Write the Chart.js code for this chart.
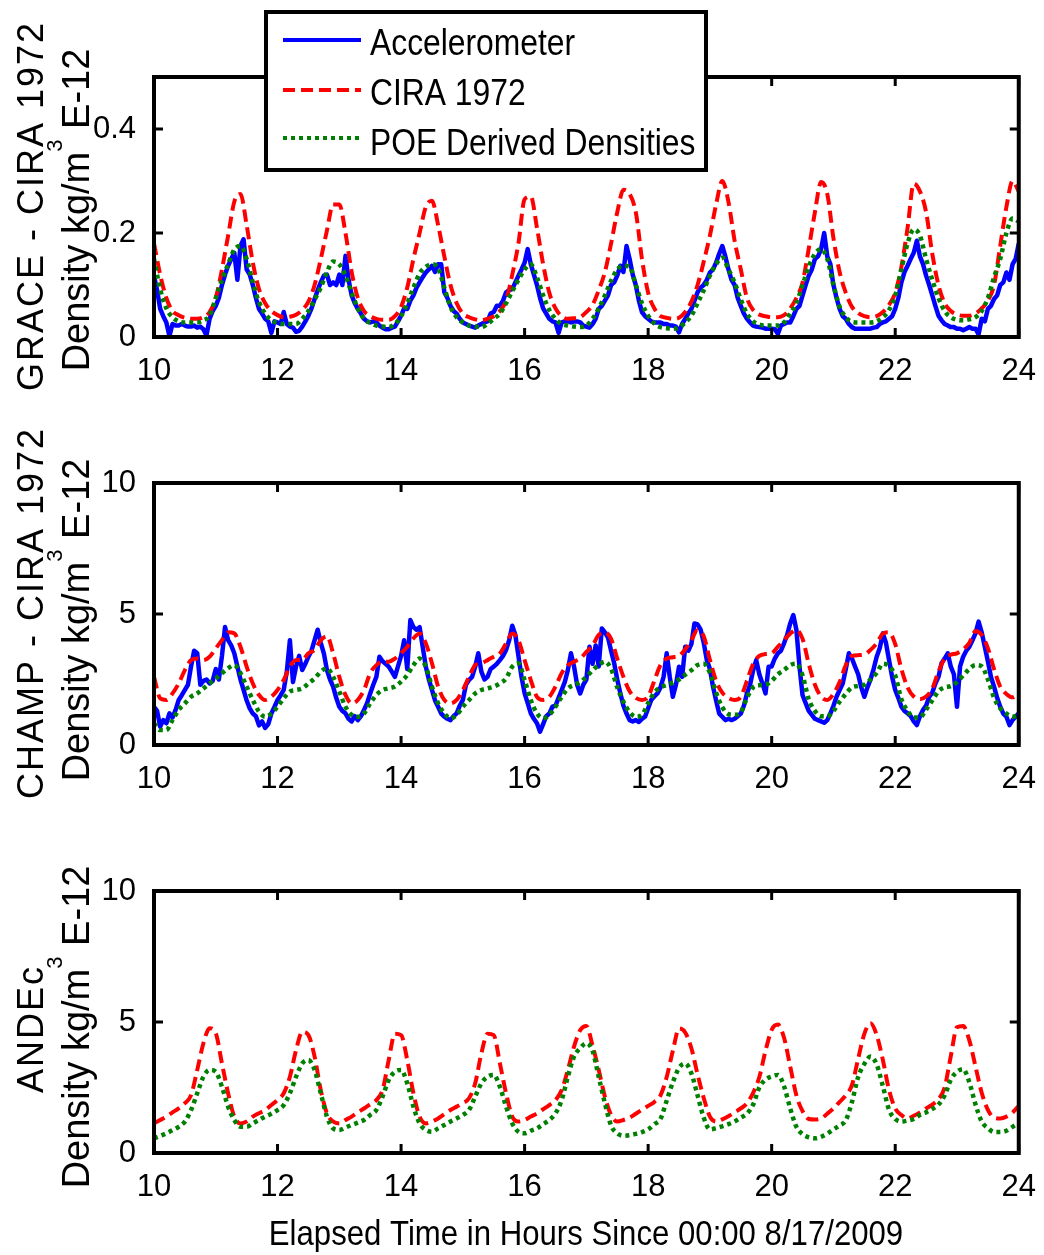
<!DOCTYPE html>
<html>
<head>
<meta charset="utf-8">
<script src="https://cdn.jsdelivr.net/npm/chart.js@4.4.1/dist/chart.umd.min.js"></script>
<style>
  html, body { margin: 0; padding: 0; background: #fff; }
  #wrap { position: relative; width: 1044px; height: 1255px; }
  canvas { position: absolute; left: 0; }
</style>
</head>
<body>
<div id="wrap">
  <canvas id="grace" width="1044" height="400" style="top:0px"></canvas>
  <canvas id="champ" width="1044" height="420" style="top:400px"></canvas>
  <canvas id="andec" width="1044" height="435" style="top:820px"></canvas>
</div>
<script>
// axis ticks and names
const xTicks = [10, 12, 14, 16, 18, 20, 22, 24];
const graceTicks = [0, 0.2, 0.4];
const densTicks = [0, 5, 10];
const seriesNames = ['Accelerometer', 'CIRA 1972', 'POE Derived Densities'];
const panelNames = ['GRACE - CIRA 1972', 'CHAMP - CIRA 1972', 'ANDEc'];
const xTitle = 'Elapsed Time in Hours Since 00:00 8/17/2009';

// sampling of the read-off values (hours)
const startHour = 10;
const modelStep = 0.1;   // CIRA / POE curves
const accStep = 0.05;    // accelerometer

// GRACE panel (E-12 kg/m3)
const graceAcc = [
  0.118,0.09,0.054,0.04,0.028,0.002,0.025,0.022,0.022,0.025,0.022,0.02,0.02,0.022,0.018,0.02,0.015,0.003,0.035,0.05,
  0.06,0.075,0.1,0.12,0.137,0.15,0.162,0.11,0.175,0.188,0.13,0.12,0.1,0.075,0.054,0.045,0.035,0.03,0.008,0.03,
  0.028,0.025,0.048,0.025,0.02,0.018,0.01,0.012,0.02,0.03,0.041,0.055,0.073,0.09,0.105,0.118,0.12,0.1,0.105,0.1,
  0.12,0.1,0.156,0.11,0.08,0.065,0.054,0.045,0.035,0.03,0.028,0.03,0.028,0.022,0.018,0.015,0.015,0.018,0.02,0.03,
  0.041,0.055,0.054,0.07,0.08,0.095,0.105,0.115,0.124,0.13,0.137,0.125,0.14,0.14,0.086,0.075,0.06,0.05,0.045,0.035,
  0.028,0.025,0.022,0.02,0.018,0.022,0.025,0.028,0.03,0.045,0.048,0.06,0.06,0.07,0.086,0.09,0.092,0.105,0.118,0.13,
  0.143,0.169,0.14,0.12,0.1,0.075,0.055,0.045,0.035,0.03,0.028,0.008,0.028,0.03,0.03,0.028,0.03,0.03,0.028,0.022,
  0.02,0.018,0.025,0.035,0.054,0.06,0.07,0.08,0.1,0.105,0.118,0.137,0.125,0.175,0.15,0.12,0.1,0.07,0.048,0.04,
  0.035,0.03,0.028,0.028,0.028,0.025,0.025,0.022,0.022,0.02,0.009,0.025,0.035,0.045,0.054,0.07,0.086,0.095,0.1,0.11,
  0.124,0.13,0.143,0.16,0.175,0.155,0.13,0.11,0.1,0.075,0.06,0.045,0.035,0.028,0.022,0.02,0.019,0.018,0.016,0.016,
  0.016,0.015,0.006,0.022,0.025,0.028,0.028,0.04,0.054,0.06,0.08,0.1,0.118,0.13,0.15,0.155,0.169,0.2,0.155,0.14,
  0.1,0.075,0.054,0.04,0.035,0.025,0.019,0.016,0.016,0.016,0.016,0.016,0.016,0.018,0.019,0.025,0.028,0.03,0.035,0.04,
  0.054,0.075,0.105,0.125,0.137,0.15,0.162,0.185,0.155,0.14,0.118,0.1,0.08,0.06,0.041,0.032,0.025,0.022,0.019,0.019,
  0.016,0.016,0.013,0.016,0.019,0.016,0.016,0.005,0.035,0.03,0.054,0.06,0.073,0.08,0.1,0.105,0.124,0.11,0.14,0.15,
  0.18
];
const graceCira = [
  0.18,0.12,0.075,0.05,0.042,0.037,0.035,0.035,0.038,0.048,
  0.075,0.13,0.195,0.26,0.275,0.215,0.143,0.092,0.065,0.05,
  0.042,0.038,0.039,0.043,0.052,0.068,0.1,0.15,0.205,0.255,
  0.255,0.2,0.125,0.075,0.05,0.04,0.035,0.033,0.033,0.04,
  0.058,0.095,0.15,0.2,0.25,0.262,0.215,0.155,0.1,0.065,
  0.045,0.038,0.034,0.032,0.035,0.04,0.05,0.07,0.12,0.18,
  0.265,0.27,0.21,0.14,0.085,0.055,0.04,0.035,0.036,0.038,
  0.048,0.062,0.09,0.125,0.18,0.24,0.283,0.275,0.24,0.15,
  0.085,0.055,0.04,0.037,0.035,0.037,0.048,0.068,0.1,0.145,
  0.195,0.255,0.3,0.26,0.185,0.13,0.075,0.052,0.043,0.04,
  0.038,0.038,0.042,0.055,0.075,0.105,0.17,0.24,0.298,0.275,
  0.19,0.125,0.085,0.058,0.046,0.04,0.038,0.04,0.048,0.062,
  0.085,0.135,0.21,0.295,0.28,0.24,0.16,0.1,0.065,0.05,
  0.043,0.041,0.041,0.045,0.055,0.07,0.1,0.175,0.25,0.3,
  0.28
];
const gracePoe = [
  0.15,0.092,0.055,0.038,0.03,0.028,0.028,0.028,0.032,0.041,
  0.075,0.11,0.14,0.168,0.175,0.15,0.105,0.067,0.045,0.032,
  0.027,0.025,0.025,0.025,0.035,0.05,0.072,0.095,0.125,0.145,
  0.14,0.118,0.085,0.055,0.035,0.027,0.022,0.02,0.019,0.025,
  0.04,0.065,0.095,0.122,0.135,0.14,0.132,0.095,0.058,0.038,
  0.028,0.022,0.02,0.019,0.025,0.035,0.045,0.065,0.088,0.11,
  0.13,0.14,0.115,0.08,0.052,0.035,0.025,0.022,0.02,0.019,
  0.022,0.035,0.055,0.08,0.108,0.13,0.137,0.135,0.1,0.065,
  0.041,0.026,0.019,0.017,0.016,0.018,0.028,0.041,0.065,0.09,
  0.118,0.14,0.153,0.13,0.105,0.072,0.045,0.03,0.024,0.022,
  0.022,0.022,0.028,0.045,0.065,0.1,0.135,0.16,0.169,0.15,
  0.1,0.058,0.038,0.029,0.028,0.028,0.028,0.03,0.038,0.052,
  0.08,0.13,0.18,0.207,0.195,0.15,0.11,0.075,0.05,0.038,
  0.033,0.032,0.034,0.038,0.05,0.075,0.115,0.15,0.2,0.228,
  0.222
];

// CHAMP panel
const champAcc = [
  1.46,1.3,0.7,0.95,0.83,1.21,1.05,1.34,1.72,1.9,2.1,2.3,3.0,3.6,3.5,2.3,2.45,2.5,2.35,2.45,
  2.9,2.5,3.4,4.5,4.0,3.8,3.5,3.0,2.5,2.1,1.7,1.4,1.2,1.1,0.75,0.9,0.65,0.8,1.2,1.45,
  1.72,1.9,2.1,2.8,4.0,2.4,3.0,3.4,2.86,3.1,3.37,3.6,4.0,4.4,3.9,3.5,2.86,2.5,2.23,1.8,
  1.46,1.3,1.21,1.0,0.9,1.1,0.95,1.1,1.34,1.6,1.97,2.3,2.6,3.37,3.2,3.1,2.99,2.8,2.6,3.0,
  3.4,4.0,2.9,4.77,4.5,4.4,4.5,3.75,3.0,2.5,2.1,1.7,1.46,1.2,1.08,1.0,0.95,1.1,1.21,1.5,
  1.72,2.3,2.48,2.6,2.99,3.5,2.8,2.5,2.6,2.9,2.99,3.1,3.24,3.4,3.63,4.0,4.55,4.2,3.4,2.6,
  1.97,1.6,1.21,1.0,0.83,0.51,0.8,1.1,1.2,1.46,1.5,1.8,2.1,2.4,2.86,3.5,3.0,2.3,1.97,2.3,
  2.5,3.75,3.1,3.8,3.0,4.45,4.3,4.1,3.6,3.12,2.5,1.97,1.5,1.2,0.95,0.9,0.95,0.88,1.0,1.08,
  1.4,1.72,1.85,1.97,2.2,2.6,3.5,2.6,1.84,2.3,2.99,2.6,3.75,3.6,3.85,4.64,4.6,4.4,3.9,3.24,
  2.9,2.23,1.7,1.2,1.08,0.95,1.0,0.95,1.0,1.1,1.2,1.5,1.97,2.3,2.86,3.24,2.7,2.35,1.97,2.99,
  3.0,3.3,3.5,3.6,3.88,4.2,4.64,4.96,4.4,3.0,1.9,1.6,1.3,1.15,1.0,0.95,0.9,0.85,0.95,1.2,
  1.5,1.84,2.1,2.35,2.9,3.5,3.3,2.99,2.7,2.2,1.84,2.2,2.5,2.9,3.37,3.7,4.26,3.9,3.24,2.6,
  2.1,1.8,1.46,1.3,1.21,1.1,0.9,0.76,1.1,1.34,1.5,1.84,2.0,2.35,2.6,3.12,3.3,3.5,2.99,2.7,
  1.46,3.0,3.37,3.6,3.75,4.0,4.26,4.71,4.3,3.75,3.2,2.6,2.23,1.8,1.46,1.2,1.08,0.76,0.95,1.08,
  1.21
];
const champCira = [
  2.6,1.78,1.72,1.97,2.35,2.86,3.24,3.3,3.24,3.37,
  3.69,4.0,4.3,4.26,3.75,2.99,2.35,1.91,1.72,1.84,
  2.1,2.48,2.99,3.24,3.24,3.5,3.63,4.0,4.15,3.5,
  2.6,1.91,1.59,1.72,2.1,2.74,3.05,3.18,3.18,3.3,
  3.5,3.75,4.07,4.26,3.88,3.12,2.23,1.72,1.59,1.72,
  2.1,2.6,3.05,3.12,3.24,3.37,3.5,3.88,4.26,4.0,
  3.24,2.48,1.84,1.72,1.84,2.23,2.74,3.05,3.18,3.3,
  3.55,3.8,4.2,4.3,4.05,3.3,2.6,2.05,1.8,1.72,
  1.85,2.45,3.05,3.3,3.35,3.4,3.65,4.0,4.39,4.15,
  3.25,2.45,2.0,1.8,1.72,1.84,2.45,3.1,3.4,3.47,
  3.5,3.75,4.0,4.25,4.39,4.05,3.1,2.3,1.85,1.72,
  1.95,2.4,3.05,3.4,3.43,3.45,3.63,3.88,4.25,4.3,
  3.85,2.9,2.2,1.85,1.75,1.85,2.15,2.8,3.3,3.45,
  3.5,3.65,3.9,4.35,4.2,3.7,2.9,2.23,1.95,1.82,
  1.97
];
const champPoe = [
  0.83,0.57,0.57,0.95,1.34,1.59,1.84,1.97,2.16,2.35,
  2.54,2.74,2.93,3.05,2.74,2.23,1.72,1.27,1.08,1.2,
  1.46,1.78,2.04,2.1,2.16,2.35,2.54,2.8,2.93,2.6,
  2.04,1.46,1.15,1.08,1.2,1.59,1.91,2.1,2.16,2.23,
  2.42,2.67,3.05,3.3,2.99,2.23,1.59,1.21,1.02,1.15,
  1.46,1.72,1.97,2.1,2.16,2.23,2.35,2.54,2.99,3.12,
  2.48,1.72,1.21,1.02,1.15,1.46,1.84,2.16,2.29,2.4,
  2.6,2.85,3.05,3.18,2.9,2.2,1.65,1.25,1.08,1.15,
  1.6,2.0,2.2,2.29,2.38,2.5,2.68,2.85,3.05,3.1,
  2.75,2.0,1.45,1.18,1.15,1.25,1.8,2.2,2.28,2.3,
  2.45,2.7,2.86,3.05,3.1,2.65,1.75,1.3,1.1,1.1,
  1.3,1.65,1.95,2.2,2.25,2.3,2.5,2.75,3.1,3.0,
  2.65,1.75,1.3,1.05,1.05,1.35,1.7,2.05,2.2,2.25,
  2.4,2.65,2.9,3.05,3.0,2.5,1.8,1.4,1.2,1.08,
  1.15
];

// ANDEc panel
const andecCira = [
  1.13,1.26,1.39,1.55,1.7,1.9,2.21,3.17,4.19,4.76,
  4.57,3.42,2.28,1.39,1.13,1.2,1.39,1.52,1.64,1.83,
  2.02,2.28,2.91,3.93,4.63,4.5,3.68,2.4,1.51,1.2,
  1.13,1.26,1.39,1.55,1.7,1.86,2.02,2.4,3.55,4.55,
  4.5,3.55,2.28,1.39,1.13,1.2,1.32,1.48,1.64,1.77,
  1.9,2.09,2.66,3.8,4.55,4.5,3.42,2.28,1.39,1.2,
  1.26,1.39,1.51,1.67,1.83,2.02,2.4,3.17,4.06,4.69,
  4.85,4.1,3.17,2.15,1.45,1.2,1.26,1.35,1.5,1.65,
  1.8,1.95,2.2,2.9,3.9,4.75,4.6,4.0,3.0,2.1,
  1.39,1.2,1.28,1.4,1.55,1.7,1.9,2.3,2.9,3.9,
  4.7,4.9,4.4,3.3,2.2,1.6,1.3,1.28,1.32,1.5,
  1.7,1.95,2.2,2.6,3.6,4.55,4.95,4.5,3.55,2.4,
  1.7,1.45,1.32,1.42,1.55,1.7,1.85,2.05,2.5,3.7,
  4.8,4.85,4.3,3.3,2.3,1.65,1.35,1.32,1.39,1.55,
  1.8
];
const andecPoe = [
  0.56,0.65,0.75,0.87,1.0,1.2,1.64,2.28,2.91,3.17,
  3.1,2.53,1.77,1.26,1.0,1.0,1.13,1.26,1.39,1.5,
  1.64,1.83,2.28,2.91,3.42,3.55,3.17,2.28,1.39,0.94,
  0.88,0.97,1.07,1.16,1.26,1.45,1.64,2.15,2.79,3.1,
  3.17,2.66,1.77,1.13,0.88,0.81,0.94,1.07,1.2,1.32,
  1.45,1.64,2.15,2.66,2.91,2.98,2.53,1.77,1.13,0.81,
  0.75,0.85,0.94,1.1,1.26,1.51,2.02,2.91,3.68,4.0,
  4.19,3.9,2.9,1.9,1.05,0.75,0.66,0.68,0.73,0.8,
  0.9,1.1,1.3,2.0,2.7,3.25,3.42,3.04,2.2,1.35,
  0.9,0.95,1.02,1.1,1.2,1.35,1.5,1.85,2.5,2.8,
  2.92,2.98,2.55,1.7,1.0,0.72,0.6,0.56,0.62,0.74,
  0.9,1.05,1.25,1.95,2.9,3.4,3.68,3.38,2.55,1.65,
  1.3,1.2,1.24,1.3,1.45,1.55,1.68,1.85,2.2,2.8,
  3.1,3.2,2.7,1.85,1.2,0.95,0.8,0.8,0.85,1.0,
  1.15
];

const FONT = '"Liberation Sans", Arial, Helvetica, sans-serif';
const BLUE = '#0000ff', RED = '#ff0000', GREEN = '#008000';

Chart.defaults.font.family = FONT;
Chart.defaults.color = '#000';

function toPoints(values, step) {
  return values.map((v, i) => ({ x: +(startHour + i * step).toFixed(2), y: v }));
}

// text along the y axis, reading bottom to top; pieces may be raised (superscript)
// letter spacing is done by hand, one glyph at a time
function rotatedText(ctx, parts, baseX, cy, spacing) {
  ctx.save();
  ctx.translate(baseX, cy);
  ctx.rotate(-Math.PI / 2);
  ctx.textAlign = 'left';
  ctx.textBaseline = 'alphabetic';
  ctx.fillStyle = '#000';
  const sp = spacing || 0;
  let total = 0;
  parts.forEach(p => {
    ctx.font = p.size + 'px ' + FONT;
    p.w = 0;
    for (const ch of p.text) p.w += ctx.measureText(ch).width + sp;
    total += p.w;
  });
  total -= sp;
  let cx = -total / 2;
  parts.forEach(p => {
    ctx.font = p.size + 'px ' + FONT;
    if (sp) {
      for (const ch of p.text) { ctx.fillText(ch, cx, p.dy || 0); cx += ctx.measureText(ch).width + sp; }
    } else {
      ctx.fillText(p.text, cx, p.dy || 0);
      cx += p.w;
    }
  });
  ctx.restore();
}

function squeezedText(ctx, text, x, y, size, sx, align) {
  ctx.save();
  ctx.translate(x, y);
  ctx.scale(sx, 1);
  ctx.font = size + 'px ' + FONT;
  ctx.fillStyle = '#000';
  ctx.textAlign = align || 'left';
  ctx.textBaseline = 'alphabetic';
  ctx.fillText(text, 0, 0);
  ctx.restore();
}

const panelPlugin = {
  id: 'panel',
  afterDatasetsDraw(chart) {
    const { ctx, chartArea: a, scales: { x, y } } = chart;
    ctx.save();
    ctx.strokeStyle = '#000';
    ctx.setLineDash([]);
    ctx.lineWidth = 3;
    ctx.beginPath();
    x.ticks.forEach(t => {
      const px = x.getPixelForValue(t.value);
      ctx.moveTo(px, a.bottom); ctx.lineTo(px, a.bottom - 9);
      ctx.moveTo(px, a.top); ctx.lineTo(px, a.top + 9);
    });
    y.ticks.forEach(t => {
      const py = y.getPixelForValue(t.value);
      ctx.moveTo(a.left, py); ctx.lineTo(a.left + 9, py);
      ctx.moveTo(a.right, py); ctx.lineTo(a.right - 9, py);
    });
    ctx.stroke();
    ctx.lineWidth = 4;
    ctx.strokeRect(a.left, a.top, a.right - a.left, a.bottom - a.top);
    ctx.restore();
  },
  afterDraw(chart, args, opts) {
    const { ctx, chartArea: a } = chart;
    const cy = (a.top + a.bottom) / 2;
    rotatedText(ctx, [{ text: opts.name, size: 36 }], 43, cy + opts.shift[0], 2);
    rotatedText(ctx, [
      { text: 'Density kg/m', size: 38 },
      { text: '3', size: 22, dy: -27 },
      { text: ' E-12', size: 38 }
    ], 89, cy + opts.shift[1], 0);

    if (opts.legend) {
      const ds = chart.data.datasets;
      ctx.save();
      ctx.fillStyle = '#fff';
      ctx.fillRect(266, 12, 440, 158);
      ctx.strokeStyle = '#000';
      ctx.lineWidth = 4;
      ctx.setLineDash([]);
      ctx.strokeRect(266, 12, 440, 158);
      const rows = [40, 90, 138];
      const base = [55, 105, 155];
      ds.forEach((d, i) => {
        ctx.strokeStyle = d.borderColor;
        ctx.lineWidth = 4;
        ctx.setLineDash(d.borderDash || []);
        ctx.beginPath();
        ctx.moveTo(283, rows[i]);
        ctx.lineTo(361, rows[i]);
        ctx.stroke();
        squeezedText(ctx, d.label, 370, base[i], 37, 0.86);
      });
      ctx.restore();
    }
    if (opts.xTitle) {
      squeezedText(ctx, opts.xTitle, 586, 425, 35, 0.89, 'center');
    }
  }
};

function makePanel(id, opts) {
  const canvas = document.getElementById(id);
  const H = canvas.height;
  return new Chart(canvas, {
    type: 'line',
    data: {
      datasets: opts.series.map(s => ({
        label: s.label,
        data: s.data,
        borderColor: s.color,
        borderWidth: s.width,
        borderDash: s.dash,
        pointRadius: 0,
        fill: false,
        tension: 0,
        cubicInterpolationMode: s.smooth ? 'monotone' : 'default',
        borderCapStyle: 'butt',
        borderJoinStyle: 'round',
        order: s.order
      }))
    },
    options: {
      responsive: false,
      animation: false,
      devicePixelRatio: 1,
      layout: { padding: { left: 0, right: 22, top: opts.top, bottom: 0 } },
      plugins: {
        legend: { display: false },
        tooltip: { enabled: false },
        panel: { name: opts.name, shift: opts.shift, legend: !!opts.legend, xTitle: opts.xTitle }
      },
      scales: {
        x: {
          type: 'linear',
          min: 10,
          max: 24,
          grid: { display: false },
          border: { display: false },
          afterBuildTicks: s => { s.ticks = xTicks.map(v => ({ value: v })); },
          afterFit: s => { s.height = H - opts.top - opts.plotH; },
          ticks: { font: { size: 31 }, color: '#000', padding: 8, maxRotation: 0, autoSkip: false }
        },
        y: {
          type: 'linear',
          min: 0,
          max: opts.yMax,
          grid: { display: false },
          border: { display: false },
          afterBuildTicks: s => { s.ticks = opts.yTicks.map(v => ({ value: v })); },
          afterFit: s => { s.width = 154; },
          ticks: { font: { size: 31 }, color: '#000', padding: 10 }
        }
      }
    },
    plugins: [panelPlugin]
  });
}

function seriesSet(acc, cira, poe) {
  const list = [];
  if (acc) list.push({ label: seriesNames[0], data: toPoints(acc, accStep), color: BLUE, width: 4.5, order: 3 });
  list.push({ label: seriesNames[1], data: toPoints(cira, modelStep), color: RED, width: 4, dash: [12, 6], smooth: true, order: 2 });
  list.push({ label: seriesNames[2], data: toPoints(poe, modelStep), color: GREEN, width: 4.5, dash: [4, 4], smooth: true, order: 1 });
  return list;
}

makePanel('grace', {
  series: seriesSet(graceAcc, graceCira, gracePoe),
  yMax: 0.5, yTicks: graceTicks, top: 77, plotH: 260,
  name: panelNames[0], shift: [0, 3], legend: true
});
makePanel('champ', {
  series: seriesSet(champAcc, champCira, champPoe),
  yMax: 10, yTicks: densTicks, top: 83, plotH: 262,
  name: panelNames[1], shift: [0, 6]
});
makePanel('andec', {
  series: seriesSet(null, andecCira, andecPoe),
  yMax: 10, yTicks: densTicks, top: 71, plotH: 262,
  name: panelNames[2], shift: [8, 5], xTitle: xTitle
});
</script>
</body>
</html>
